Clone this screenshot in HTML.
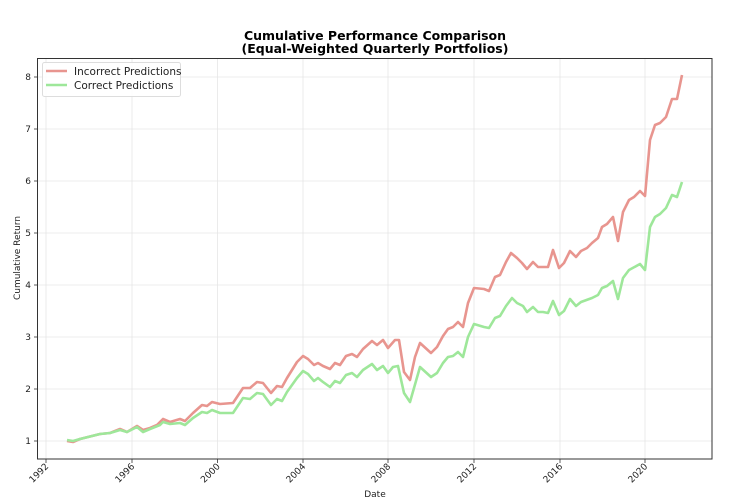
<!DOCTYPE html>
<html><head><meta charset="utf-8"><style>
html,body{margin:0;padding:0;background:#fff;}
svg{display:block;font-family:"DejaVu Sans","Liberation Sans",sans-serif;}
</style></head><body>
<svg width="744" height="499" viewBox="0 0 744 499" xmlns="http://www.w3.org/2000/svg">
<rect width="744" height="499" fill="#fff"/>
<text x="375" y="40" text-anchor="middle" font-size="12.5" font-weight="bold" fill="#000">Cumulative Performance Comparison</text>
<text x="375" y="53" text-anchor="middle" font-size="12.5" font-weight="bold" fill="#000">(Equal-Weighted Quarterly Portfolios)</text>
<g stroke="#e6e6e6" stroke-width="0.8">
<line x1="46" y1="58" x2="46" y2="459"/><line x1="132" y1="58" x2="132" y2="459"/><line x1="217.5" y1="58" x2="217.5" y2="459"/><line x1="303" y1="58" x2="303" y2="459"/><line x1="388" y1="58" x2="388" y2="459"/><line x1="474" y1="58" x2="474" y2="459"/><line x1="560" y1="58" x2="560" y2="459"/><line x1="645" y1="58" x2="645" y2="459"/>
<line x1="37" y1="441" x2="712" y2="441"/><line x1="37" y1="389" x2="712" y2="389"/><line x1="37" y1="337" x2="712" y2="337"/><line x1="37" y1="285" x2="712" y2="285"/><line x1="37" y1="233" x2="712" y2="233"/><line x1="37" y1="181" x2="712" y2="181"/><line x1="37" y1="129" x2="712" y2="129"/><line x1="37" y1="77" x2="712" y2="77"/>
</g>
<polyline fill="none" stroke="#e8958f" stroke-width="2.6" stroke-linejoin="round" points="67,441 73,442 80,439 88,437 100,434 110,433 120,429 127,432 137,426 143,430 150,428 157,425 163,419 170,422 180,419 185,421 193,413 202,405 207,406 212,402 220,404 233,403 243,388 250,388 257,382 263,383 271,393 277,386 282,387 287,378 297,362 303,356 308,359 314,365 318,363 323,366 330,369 335,363 340,365 346,356 352,354 357,357 363,349 372,341 377,345 383,340 388,348 395,340 399,340 404,372 410,380 415,357 420,343 431,353 437,347 443,336 448,329 453,327 458,322 463,327 468,303 474,288 484,289 489,291 495,277 500,275 506,262 511,253 517,258 522,263 527,269 533,262 538,267 548,267 553,250 559,268 564,263 570,251 576,257 581,251 587,248 592,243 598,238 602,227 607,224 613,217 618,241 623,212 629,200 634,197 640,191 645,196 650,140 655,125 660,123 666,117 672,99 677,99 682,75"/>
<polyline fill="none" stroke="#9ee79a" stroke-width="2.6" stroke-linejoin="round" points="67,440 73,441 80,439 88,437 100,434 110,433 120,430 127,432 137,427 143,432 150,429 160,425 163,422 170,424 180,423 185,425 193,418 202,412 207,413 212,410 220,413 233,413 243,398 250,399 257,393 263,394 271,405 277,399 282,401 287,392 297,378 303,371 308,374 314,381 318,378 323,382 330,387 335,381 340,383 346,375 352,373 357,377 363,370 372,364 377,370 383,366 388,373 393,367 398,366 404,393 410,402 420,367 431,377 437,373 443,363 448,357 453,356 458,352 463,357 468,337 474,324 484,327 489,328 495,318 500,316 506,306 512,298 517,303 523,306 527,312 533,307 538,312 543,312 548,313 553,301 559,315 564,311 570,299 576,306 581,302 592,298 598,295 602,288 607,286 613,281 618,299 623,278 629,270 640,264 645,270 650,227 655,217 660,214 666,208 672,195 677,197 682,182"/>
<rect x="37.5" y="58.5" width="674.5" height="400.5" fill="none" stroke="#333" stroke-width="1"/>
<g stroke="#333" stroke-width="0.8">
<line x1="34" y1="441" x2="37" y2="441"/><line x1="34" y1="389" x2="37" y2="389"/><line x1="34" y1="337" x2="37" y2="337"/><line x1="34" y1="285" x2="37" y2="285"/><line x1="34" y1="233" x2="37" y2="233"/><line x1="34" y1="181" x2="37" y2="181"/><line x1="34" y1="129" x2="37" y2="129"/><line x1="34" y1="77" x2="37" y2="77"/>
<line x1="46" y1="459" x2="46" y2="463"/><line x1="132" y1="459" x2="132" y2="463"/><line x1="217.5" y1="459" x2="217.5" y2="463"/><line x1="303" y1="459" x2="303" y2="463"/><line x1="388" y1="459" x2="388" y2="463"/><line x1="474" y1="459" x2="474" y2="463"/><line x1="560" y1="459" x2="560" y2="463"/><line x1="645" y1="459" x2="645" y2="463"/>
</g>
<g font-size="9" fill="#222" text-anchor="end">
<text x="31" y="444">1</text><text x="31" y="392">2</text><text x="31" y="340">3</text><text x="31" y="288">4</text><text x="31" y="236">5</text><text x="31" y="184">6</text><text x="31" y="132">7</text><text x="31" y="80">8</text>
<text transform="translate(49,467) rotate(-45)">1992</text>
<text transform="translate(135,467) rotate(-45)">1996</text>
<text transform="translate(220.5,467) rotate(-45)">2000</text>
<text transform="translate(306,467) rotate(-45)">2004</text>
<text transform="translate(391,467) rotate(-45)">2008</text>
<text transform="translate(477,467) rotate(-45)">2012</text>
<text transform="translate(563,467) rotate(-45)">2016</text>
<text transform="translate(648,467) rotate(-45)">2020</text>
</g>
<text x="375" y="497" text-anchor="middle" font-size="9" fill="#222">Date</text>
<text transform="translate(20,258) rotate(-90)" text-anchor="middle" font-size="9" fill="#222">Cumulative Return</text>
<rect x="42.5" y="62.5" width="138" height="34" rx="2" fill="#fff" fill-opacity="0.85" stroke="#ddd"/>
<line x1="46" y1="71" x2="67" y2="71" stroke="#e8958f" stroke-width="2.6"/>
<line x1="46" y1="85" x2="67" y2="85" stroke="#9ee79a" stroke-width="2.6"/>
<text x="74" y="75" font-size="10.5" fill="#222">Incorrect Predictions</text>
<text x="74" y="89" font-size="10.5" fill="#222">Correct Predictions</text>
</svg>
</body></html>
